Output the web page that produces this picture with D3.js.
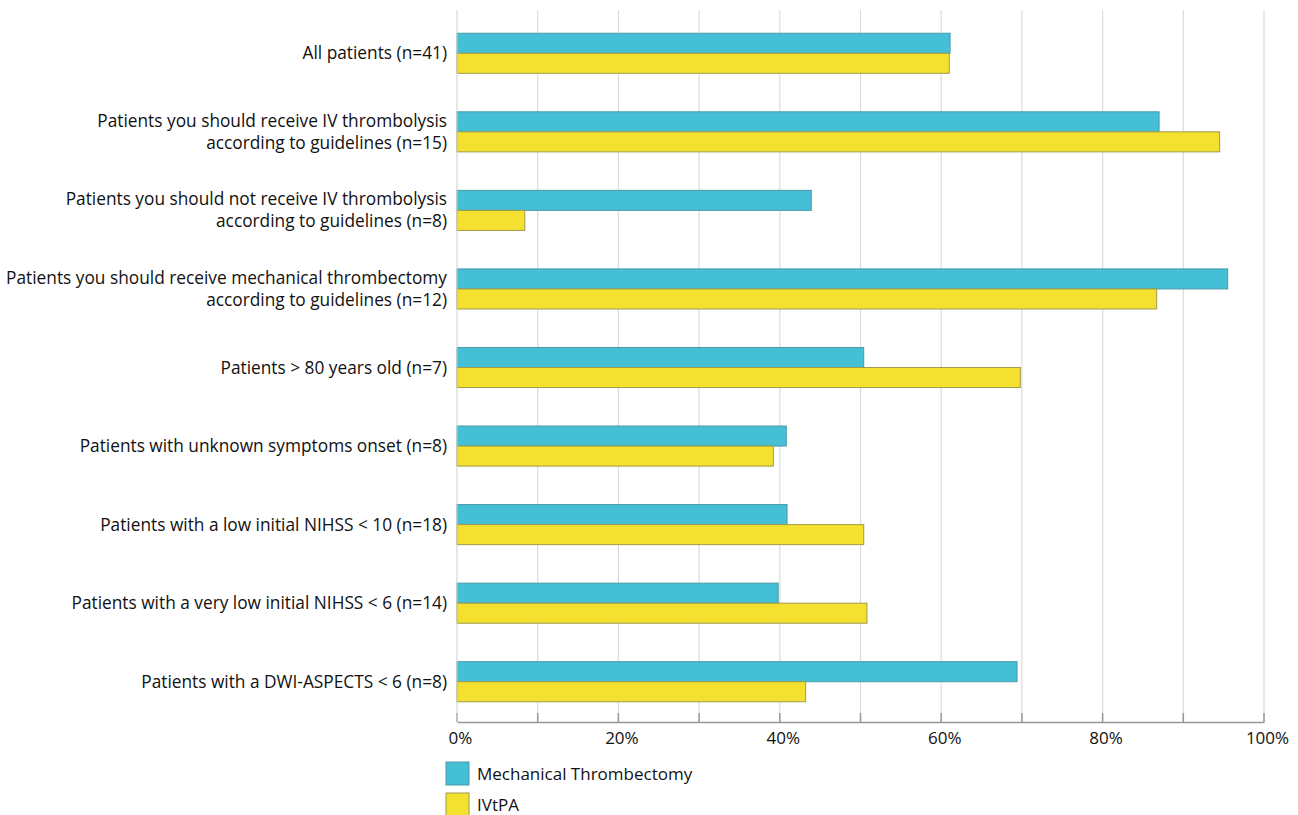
<!DOCTYPE html>
<html><head><meta charset="utf-8">
<script src="https://cdn.jsdelivr.net/npm/d3@7"></script>
<style>body{margin:0;background:#fff;} text{font-family:"Open Sans",sans-serif;fill:#111;}</style>
</head><body>
<svg id="c" width="1298" height="815"></svg>
<script>
const categories = [
  ["All patients (n=41)"],
  ["Patients you should receive IV thrombolysis","according to guidelines (n=15)"],
  ["Patients you should not receive IV thrombolysis","according to guidelines (n=8)"],
  ["Patients you should receive mechanical thrombectomy","according to guidelines (n=12)"],
  ["Patients > 80 years old (n=7)"],
  ["Patients with unknown symptoms onset (n=8)"],
  ["Patients with a low initial NIHSS < 10 (n=18)"],
  ["Patients with a very low initial NIHSS < 6 (n=14)"],
  ["Patients with a DWI-ASPECTS < 6 (n=8)"]
];
const mechanical = [61.1, 87.0, 43.9, 95.5, 50.4, 40.8, 40.9, 39.8, 69.4];
const ivtpa = [61.0, 94.5, 8.4, 86.7, 69.8, 39.2, 50.4, 50.8, 43.2];
const seriesNames = ["Mechanical Thrombectomy", "IVtPA"];
const colors = ["#45bfd6", "#f4e12f"];
const xTicks = [0,20,40,60,80,100];
const gridTicks = [10,20,30,40,50,60,70,80,90,100];

const svg = d3.select("#c");
const x = d3.scaleLinear().domain([0,100]).range([457,1264]);
const y = d3.scaleBand().domain(d3.range(categories.length)).range([14,721]).paddingInner(0.49).paddingOuter(0.245);
const sub = d3.scaleBand().domain([0,1]).range([0,y.bandwidth()]);

svg.append("g").selectAll("line").data(gridTicks).join("line")
  .attr("x1",d=>x(d)).attr("x2",d=>x(d)).attr("y1",10).attr("y2",722)
  .attr("stroke","#dcdcdc").attr("stroke-width",1.2);

const series = [mechanical, ivtpa];
series.forEach((vals,si)=>{
  svg.append("g").selectAll("rect").data(vals).join("rect")
    .attr("x",x(0)).attr("y",(d,i)=>y(i)+sub(si))
    .attr("width",d=>x(d)-x(0)).attr("height",sub.bandwidth())
    .attr("fill",colors[si]).attr("stroke",si===0?"#4a9aa8":"#a09a4a").attr("stroke-width",1);
});

const ax = svg.append("g").attr("transform","translate(0,722)")
  .call(d3.axisBottom(x).tickValues(xTicks).tickFormat(d=>d+"%").tickSize(0).tickPadding(10));
ax.select(".domain").attr("stroke","#999").attr("stroke-width",1.5);
ax.selectAll("text").style("font-size","17px").style("fill","#111").attr("dx","3");
svg.append("g").selectAll("line").data(d3.range(0,101,10)).join("line")
  .attr("x1",d=>x(d)).attr("x2",d=>x(d)).attr("y1",713).attr("y2",722)
  .attr("stroke","#999").attr("stroke-width",1.5);
svg.append("line").attr("x1",x(0)).attr("x2",x(0)).attr("y1",10).attr("y2",722).attr("stroke","#cfcfcf");

const lab = svg.append("g").selectAll("text").data(categories).join("text")
  .attr("text-anchor","end").attr("x",447)
  .attr("y",(d,i)=>y(i)+y.bandwidth()/2)
  .style("font-size","17.3px").style("letter-spacing","0px");
lab.each(function(d){
  const t = d3.select(this);
  const n = d.length;
  d.forEach((line,k)=>{
    t.append("tspan").attr("x",447).attr("dy", k===0 ? ((-(n-1)*22/2)+6)+"px" : "22px").text(line);
  });
});

const lg = svg.append("g");
seriesNames.forEach((s,i)=>{
  lg.append("rect").attr("x",446).attr("y",762+i*31).attr("width",23).attr("height",23)
    .attr("fill",colors[i]).attr("stroke",i===0?"#4a9aa8":"#a09a4a");
  lg.append("text").attr("x",477).attr("y",780+i*31).text(s).style("font-size","17px");
});
</script>
</body></html>
